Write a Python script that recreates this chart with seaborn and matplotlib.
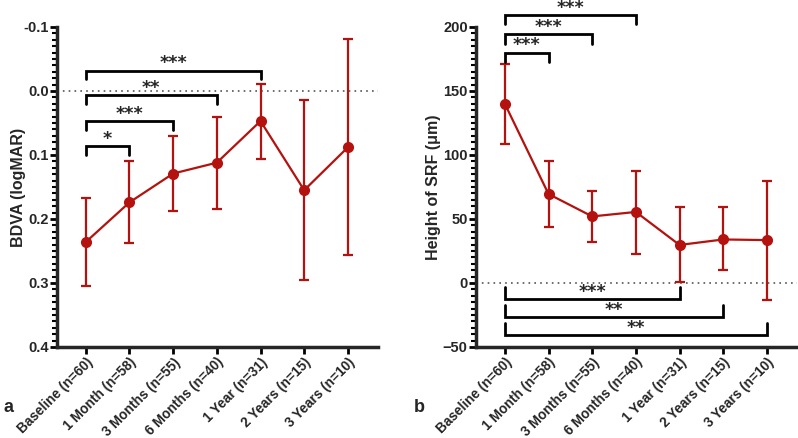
from matplotlib import pyplot as plt
from matplotlib.ticker import MultipleLocator
import seaborn as sns
import pandas as pd

visits = ["Baseline (n=60)", "1 Month (n=58)", "3 Months (n=55)", "6 Months (n=40)",
          "1 Year (n=31)", "2 Years (n=15)", "3 Years (n=10)"]

bdva_mean = [0.236, 0.174, 0.129, 0.112, 0.047, 0.155, 0.088]
bdva_low = [0.167, 0.110, 0.071, 0.040, -0.011, 0.014, -0.081]
bdva_high = [0.304, 0.238, 0.187, 0.184, 0.106, 0.296, 0.257]

srf_mean = [140, 69.5, 52, 55.5, 29.7, 34, 33.5]
srf_low = [108.6, 44, 32, 23, 1, 10, -13]
srf_high = [171, 95, 72, 87.5, 59, 59, 80]

# (start, end, bracket y, foot y, stars)
bdva_sig = [(0, 1, 0.086, 0.100, "*"), (0, 2, 0.047, 0.061, "***"),
            (0, 3, 0.006, 0.020, "**"), (0, 4, -0.032, -0.018, "***")]
srf_sig = [(0, 1, 180, 173, "***"), (0, 2, 194.5, 187, "***"), (0, 3, 209, 202, "***"),
           (0, 4, -12.5, -3, "***"), (0, 5, -26.5, -17, "**"), (0, 6, -40.5, -31, "**")]

red = "#B3120F"
sns.set_style("ticks")
plt.rcParams["font.family"] = ["Liberation Sans", "DejaVu Sans"]
plt.rcParams["font.weight"] = "bold"

fig = plt.figure(figsize=(7.98, 4.38), dpi=100)
ax1 = fig.add_axes([0.0714, 0.2078, 0.4023, 0.7306])
ax2 = fig.add_axes([0.5965, 0.2078, 0.4023, 0.7306])


def draw_panel(ax, mean, low, high, sig, ylabel, ylim, major, minor):
    df = pd.DataFrame({"x": range(len(visits)), "y": mean})
    ax.axhline(0, color="#555555", lw=1.2, ls=(0, (1, 2.5)), zorder=0)
    err = [[m - l for m, l in zip(mean, low)], [h - m for m, h in zip(mean, high)]]
    ax.errorbar(df["x"], df["y"], yerr=err, fmt="none", ecolor=red, elinewidth=1.6,
                capsize=3.7, capthick=1.6, zorder=2)
    sns.lineplot(df, x="x", y="y", ax=ax, color=red, lw=1.6, marker="o",
                 markersize=8, markeredgewidth=0, zorder=3)
    for a, b, yb, yf, stars in sig:
        ax.plot([a, a, b, b], [yf, yb, yb, yf], color="black", lw=2, clip_on=False,
                solid_joinstyle="miter")
        ax.annotate(stars, ((a + b) / 2, yb), xytext=(0, 1.5), textcoords="offset points",
                    ha="center", va="baseline", fontsize=12.5, fontweight="bold",
                    family="DejaVu Sans", annotation_clip=False)
    ax.set_ylim(*ylim)
    ax.set_xlim(-0.66, 6.69)
    ax.set_xticks(range(len(visits)))
    ax.set_xticklabels(visits, rotation=45, ha="right", rotation_mode="anchor",
                       fontsize=9.8, fontweight="bold")
    ax.yaxis.set_major_locator(MultipleLocator(major))
    ax.yaxis.set_minor_locator(MultipleLocator(minor))
    for lab in ax.get_yticklabels():
        lab.set_fontweight("bold")
        lab.set_fontsize(10.5)
    ax.set_xlabel("")
    ax.set_ylabel(ylabel, fontsize=11.5, fontweight="bold")
    for s in ["top", "right"]:
        ax.spines[s].set_visible(False)
    for s in ["left", "bottom"]:
        ax.spines[s].set_linewidth(2.5)
    ax.tick_params(axis="both", which="major", width=2, length=5, color="black", pad=1)
    ax.tick_params(axis="y", which="minor", width=1.5, length=3.5, color="black")


draw_panel(ax1, bdva_mean, bdva_low, bdva_high, bdva_sig, "BDVA (logMAR)",
           (0.4, -0.1), 0.1, 0.01)
ax1.yaxis.set_major_formatter(plt.FuncFormatter(lambda v, p: f"{v:.1f}"))
draw_panel(ax2, srf_mean, srf_low, srf_high, srf_sig, "Height of SRF (μm)",
           (-50, 200), 50, 5)
ax1.yaxis.set_label_coords(-0.097, 0.5)
ax2.yaxis.set_label_coords(-0.109, 0.5)
fig.text(0.004, 1 - 407 / 438, "a", fontsize=13, fontweight="bold", va="center")
fig.text(0.518, 1 - 407 / 438, "b", fontsize=13, fontweight="bold", va="center")

fig.savefig("out.png", dpi=100)
